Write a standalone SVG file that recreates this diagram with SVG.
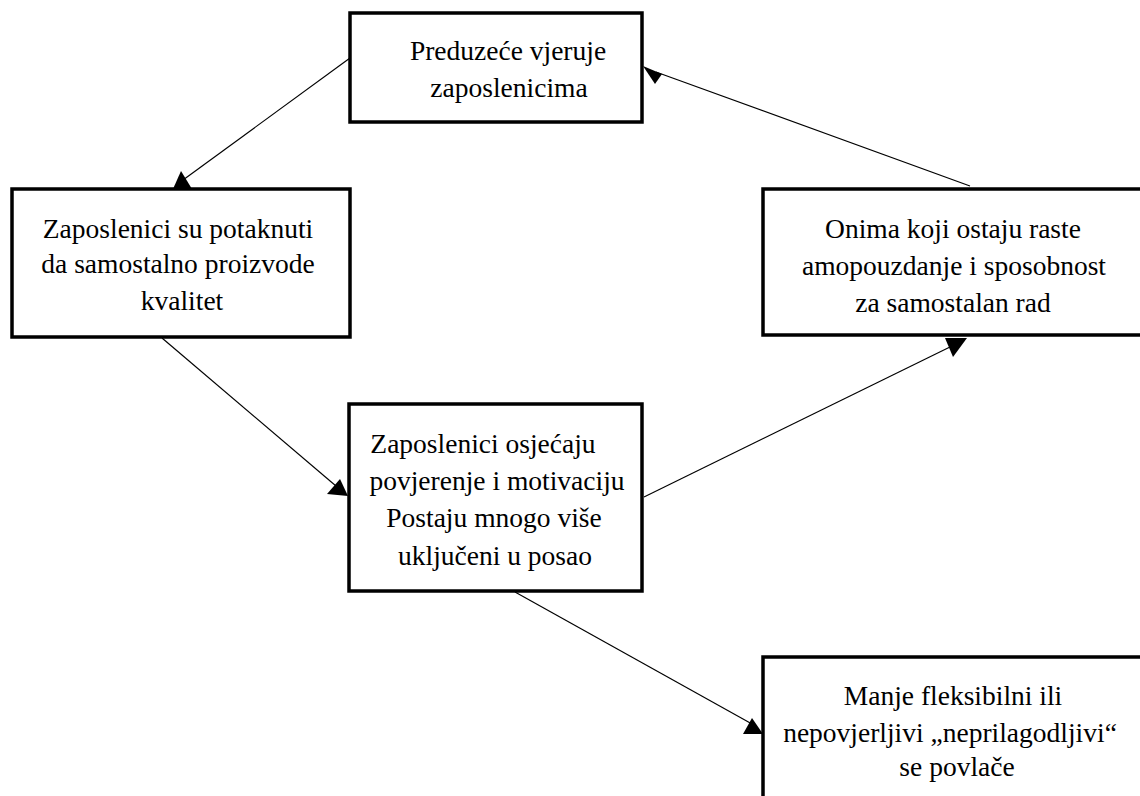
<svg xmlns="http://www.w3.org/2000/svg" width="1140" height="796" viewBox="0 0 1140 796">
<style>
.box{fill:#fff;stroke:#000;stroke-width:3.5}
.lbl{font-family:"Liberation Serif","Times New Roman",serif;font-size:27.5px;fill:#000;text-anchor:middle}
.ln{stroke:#000;stroke-width:1.2;fill:none}
.hd{fill:#000;stroke:none}
</style>
<rect width="1140" height="796" fill="#fff"/>
<g id="connectors">
<line class="ln" x1="350" y1="58" x2="183" y2="180"/>
<polygon class="hd" points="173,189 181,171 192,189"/>
<line class="ln" x1="162" y1="338" x2="336" y2="486"/>
<polygon class="hd" points="327,494 340,479 348,496"/>
<line class="ln" x1="644" y1="497" x2="952" y2="346"/>
<polygon class="hd" points="945,338 967,338 953,357"/>
<line class="ln" x1="970" y1="186" x2="656" y2="72"/>
<polygon class="hd" points="643,66 662,74 655,84"/>
<line class="ln" x1="515" y1="592" x2="752" y2="724"/>
<polygon class="hd" points="743,734 752,718 763,734"/>
</g>
<g id="n1">
<rect class="box" x="350" y="13" width="292" height="109"/>
<text class="lbl" x="508" y="60">Preduzeće vjeruje</text>
<text class="lbl" x="509" y="97">zaposlenicima</text>
</g>
<g id="n2">
<rect class="box" x="12" y="189" width="338" height="148"/>
<text class="lbl" x="178" y="238">Zaposlenici su potaknuti</text>
<text class="lbl" x="178" y="273">da samostalno proizvode</text>
<text class="lbl" x="182" y="310">kvalitet</text>
</g>
<g id="n3">
<rect class="box" x="763" y="189" width="400" height="146"/>
<text class="lbl" x="953" y="238">Onima koji ostaju raste</text>
<text class="lbl" x="954" y="275">amopouzdanje i sposobnost</text>
<text class="lbl" x="953" y="312">za samostalan rad</text>
</g>
<g id="n4">
<rect class="box" x="349" y="404" width="293" height="187"/>
<text class="lbl" x="483" y="453">Zaposlenici osjećaju</text>
<text class="lbl" x="497" y="490">povjerenje i motivaciju</text>
<text class="lbl" x="494" y="527">Postaju mnogo više</text>
<text class="lbl" x="495" y="565">uključeni u posao</text>
</g>
<g id="n5">
<rect class="box" x="763" y="657" width="400" height="170"/>
<text class="lbl" x="953" y="705">Manje fleksibilni ili</text>
<text class="lbl" x="950" y="742">nepovjerljivi „neprilagodljivi“</text>
<text class="lbl" x="957" y="776">se povlače</text>
</g>
</svg>
